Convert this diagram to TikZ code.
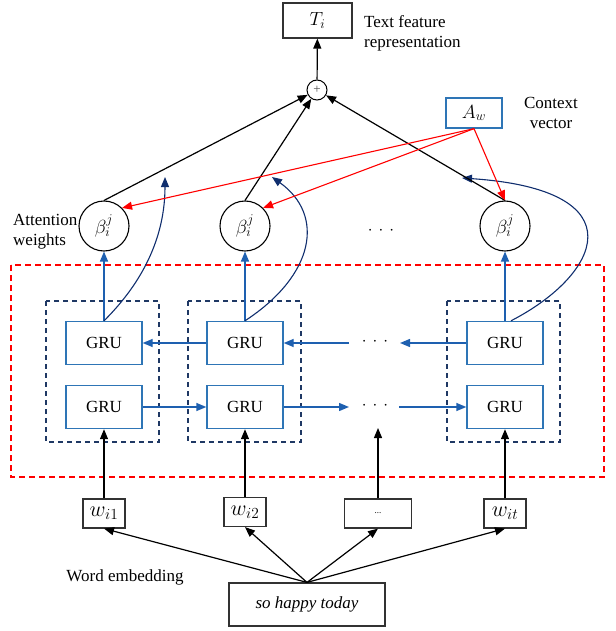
\RequirePackage{fix-cm}
\documentclass[tikz,border=0pt]{standalone}
\usepackage{fontspec}
\setmainfont{Liberation Serif}
\usetikzlibrary{arrows.meta}

\definecolor{gruborder}{RGB}{46,117,182}
\definecolor{flowblue}{RGB}{30,96,176}
\definecolor{navyline}{RGB}{16,46,110}
\definecolor{navydash}{RGB}{31,56,100}
\definecolor{boxgrey}{RGB}{50,50,50}

% three spaced dots used for the elided time steps
\newcommand{\spdots}{$\cdot$\hspace{6pt}$\cdot$\hspace{6pt}$\cdot$}

\tikzset{
  gru/.style={draw=gruborder, line width=1.4pt, minimum width=76pt,
    minimum height=43pt, inner sep=0pt},
  plainbox/.style={draw=boxgrey, line width=1.2pt, inner sep=0pt},
  wordbox/.style={plainbox, minimum width=42pt, minimum height=29pt,
    font=\fontsize{22}{22}\selectfont},
  beta/.style={circle, draw, line width=1.1pt, minimum size=50pt, inner sep=0pt,
    font=\fontsize{19}{19}\selectfont},
  tipk/.style={-{Triangle[length=10pt,width=8pt]}, line width=1.2pt},
  flow/.style={-{Triangle[length=10pt,width=8pt]}, draw=flowblue, line width=1.4pt},
  carry/.style={-{Triangle[length=10pt,width=8pt]}, draw=navyline, line width=1.1pt},
  attn/.style={-{Triangle[length=10pt,width=8pt]}, draw=red, line width=1.1pt},
  label/.style={inner sep=0pt, align=left},
  dotsnode/.style={inner sep=0pt}
}

\begin{document}
\begin{tikzpicture}[x=1pt, y=-1pt, font=\fontsize{17}{20}\selectfont]
\useasboundingbox (0,0) rectangle (615,631);

% encoder frame and per-step frames
\draw[red, line width=1.1pt, dash pattern=on 6pt off 4pt] (11,265) rectangle (604,477);
\foreach \xa/\xb in {46/159, 188/301, 447/560}
  \draw[navydash, line width=1.2pt, dash pattern=on 5pt off 4pt] (\xa,301) rectangle (\xb,442);

% output and context
\node[plainbox, minimum width=69pt, minimum height=35pt, font=\fontsize{19}{19}\selectfont]
  (T) at (317.5,20.5) {$T_i$};
\node[label, anchor=west] (tlab) at (364,33) {Text feature\\representation};
\node[circle, draw, line width=1pt, minimum size=20pt, inner sep=0pt] (sum) at (317,90)
  {\fontsize{13}{13}\selectfont\color{black!70}+};
\node[draw=gruborder, line width=1.3pt, minimum width=56pt, minimum height=30pt,
  inner sep=0pt, font=\fontsize{19}{19}\selectfont] (Aw) at (474,113) {$A_w$};
\node[label, align=center] (clab) at (551,113) {Context\\vector};

% attention weights
\node[beta] (b1) at (104,226) {$\beta_i^j$};
\node[beta] (b2) at (245,226) {$\beta_i^j$};
\node[beta] (b3) at (505,226) {$\beta_i^j$};
\node[dotsnode] (bdots) at (381,231) {\spdots};
\node[label, anchor=west] (alab) at (13,232) {Attention\\weights};

% bidirectional GRU cells
\node[gru] (g1t) at (104,343) {GRU};
\node[gru] (g1b) at (104,407) {GRU};
\node[gru] (g2t) at (245,343) {GRU};
\node[gru] (g2b) at (245,407) {GRU};
\node[gru] (g3t) at (505,343) {GRU};
\node[gru] (g3b) at (505,407) {GRU};
\node[dotsnode] (tdots) at (375,342) {\spdots};
\node[dotsnode] (ldots) at (375,406) {\spdots};

% word vectors and input sentence
\node[wordbox] (w1) at (104,513.5) {$w_{i1}$};
\node[wordbox] (w2) at (245,512) {$w_{i2}$};
\node[plainbox, minimum width=67pt, minimum height=29pt] (w3) at (378,513.5)
  {\fontsize{9}{9}\selectfont ...};
\node[wordbox] (w4) at (505,513.5) {$w_{it}$};
\node[plainbox, minimum width=156pt, minimum height=43pt] (sent) at (307,604.5)
  {\textit{so happy today}};
\node[label] (elab) at (125,577) {Word embedding};

% free ends of the elided connections
\coordinate (ta) at (400,343);
\coordinate (tb) at (349,343);
\coordinate (la) at (349,407);
\coordinate (lb) at (399,407);
\coordinate (mid) at (378,428);

% embedding arrows
\foreach \w in {w1,w2,w3,w4}
  \draw[tipk] (sent.north) -- (\w.south);
\draw[tipk] (w1.north) -- (g1b.south);
\draw[tipk] (w2.north) -- (g2b.south);
\draw[tipk] (w3.north) -- (mid);
\draw[tipk] (w4.north) -- (g3b.south);

% recurrent links
\draw[flow] (g1b.east) -- (g2b.west);
\draw[flow] (g2b.east) -- (la);
\draw[flow] (lb) -- (g3b.west);
\draw[flow] (g3t.west) -- (ta);
\draw[flow] (tb) -- (g2t.east);
\draw[flow] (g2t.west) -- (g1t.east);

% hidden states to attention weights
\draw[flow] (g1t.north) -- (b1.south);
\draw[flow] (g2t.north) -- (b2.south);
\draw[flow] (g3t.north) -- (b3.south);

% hidden states carried to the weighted sum
\coordinate (c1) at (165,177);
\coordinate (c2) at (272,177);
\coordinate (c3) at (462,178);
\draw[carry] (g1t.north) .. controls (130,295) and (165,250) .. (c1);
\draw[carry] (g2t.north) .. controls (315,275) and (325,215) .. (c2);
\draw[carry] ([xshift=6pt]g3t.north) .. controls (600,275) and (640,190) .. (c3);

% weighted sum
\draw[tipk] (b1.north) -- (sum);
\draw[tipk] (b2.north) -- (sum);
\draw[tipk] (b3.north) -- (sum);
\draw[tipk] (sum) -- (T);

% context vector
\draw[attn] (Aw.south) -- (b1.north east);
\draw[attn] (Aw.south) -- (b2.north east);
\draw[attn] (Aw.south) -- (b3.north);
\end{tikzpicture}
\end{document}
